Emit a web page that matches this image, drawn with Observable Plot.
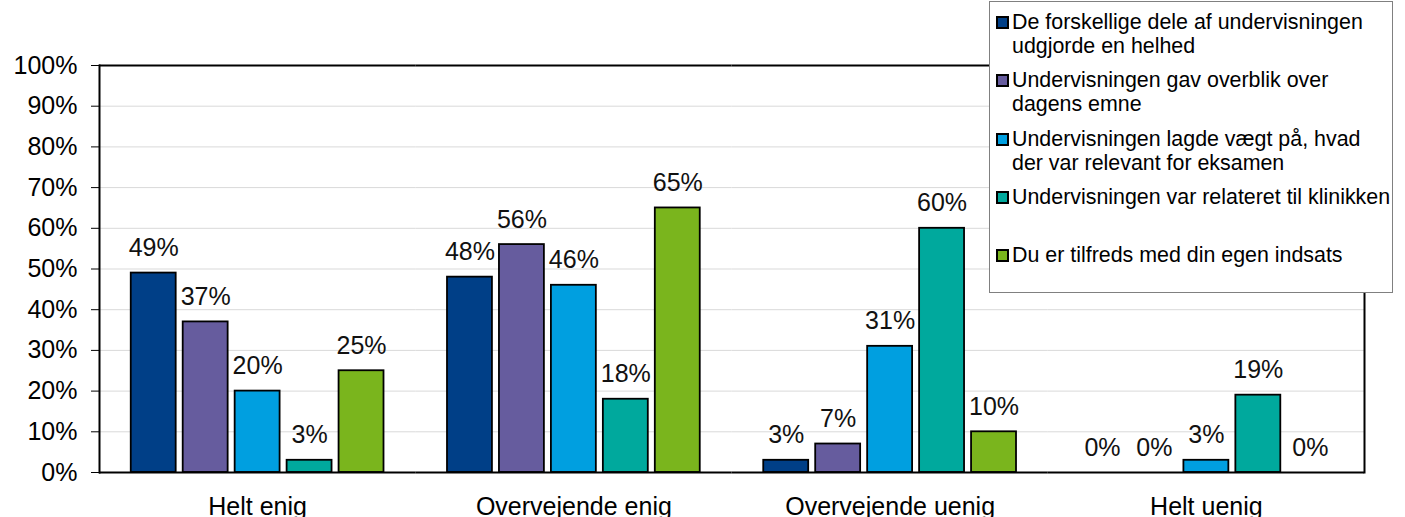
<!DOCTYPE html>
<html>
<head>
<meta charset="utf-8">
<script src="https://cdn.jsdelivr.net/npm/d3@7"></script>
<script src="https://cdn.jsdelivr.net/npm/@observablehq/plot@0.6"></script>
<style>
  html, body { margin: 0; padding: 0; background: #fff; }
  #wrap { position: relative; width: 1405px; height: 517px; overflow: hidden; font-family: "Liberation Sans", Arial, sans-serif; }
  #legend { position: absolute; left: 989px; top: 1px; width: 404px; height: 292px; background: #fff; border: 1px solid #808080; box-sizing: border-box; }
  .item { position: absolute; left: 6px; height: 58px; }
  .sw { position: absolute; left: 0; top: 6px; width: 13px; height: 13px; box-sizing: border-box; border: 2px solid #000; }
  .lt { position: absolute; left: 16px; top: 0; font-size: 21.4px; line-height: 24px; white-space: pre; color: #000; }
</style>
</head>
<body>
<div id="wrap"><div id="chart"></div><div id="legend"></div></div>
<script>
const categories = ["Helt enig", "Overvejende enig", "Overvejende uenig", "Helt uenig"];
const series = [
  "De forskellige dele af undervisningen udgjorde en helhed",
  "Undervisningen gav overblik over dagens emne",
  "Undervisningen lagde vægt på, hvad der var relevant for eksamen",
  "Undervisningen var relateret til klinikken",
  "Du er tilfreds med din egen indsats"
];
const legendLabels = [
  "De forskellige dele af undervisningen\nudgjorde en helhed",
  "Undervisningen gav overblik over\ndagens emne",
  "Undervisningen lagde vægt på, hvad\nder var relevant for eksamen",
  "Undervisningen var relateret til klinikken",
  "Du er tilfreds med din egen indsats"
];
const colors = ["#003f87", "#665c9e", "#009fe0", "#00a99d", "#7ab51d"];
const heltEnig = [49, 37, 20, 3, 25];
const overvejendeEnig = [48, 56, 46, 18, 65];
const overvejendeUenig = [3, 7, 31, 60, 10];
const heltUenig = [0, 0, 3, 19, 0];
const yTicks = [0, 10, 20, 30, 40, 50, 60, 70, 80, 90, 100];

const valueRows = [heltEnig, overvejendeEnig, overvejendeUenig, heltUenig];
const data = categories.flatMap((c, i) => series.map((s, j) => ({category: c, series: s, value: valueRows[i][j]})));

const chart = Plot.plot({
  width: 1405,
  height: 517,
  marginLeft: 99,
  marginRight: 41,
  marginTop: 65,
  marginBottom: 45,
  style: {fontFamily: "'Liberation Sans', Arial, sans-serif", fontSize: "25px", color: "#000", background: "#fff"},
  fx: {domain: categories, padding: 0, label: null, round: false},
  x: {domain: series, paddingInner: 0.135, paddingOuter: 0.611, round: false, axis: null},
  y: {domain: [0, 100], label: null},
  color: {domain: series, range: colors},
  marks: [
    Plot.ruleY(yTicks.filter(t => t > 0 && t < 100), {stroke: "#d9d9d9", strokeWidth: 1}),
    Plot.barY(data.filter(d => d.value > 0), {fx: "category", x: "series", y: "value", fill: "series", stroke: "#000", strokeWidth: 1.8}),
    Plot.text(data, {fx: "category", x: "series", y: "value", text: d => d.value + "%", dy: -25, fontSize: 25, fill: "#111"}),
    Plot.ruleY([0, 100], {stroke: "#000", strokeWidth: 2}),
    Plot.frame({anchor: "left", facetAnchor: "left", stroke: "#000", strokeWidth: 2}),
    Plot.frame({anchor: "right", facetAnchor: "right", stroke: "#000", strokeWidth: 2}),
    Plot.axisY({ticks: yTicks, tickFormat: d => d + "%", tickSize: 8, tickPadding: 14, label: null, facetAnchor: "left", fontSize: 25, stroke: "#000"}),
    Plot.axisFx({anchor: "bottom", tickSize: 0, tickPadding: 25, label: null, fontSize: 25})
  ]
});
document.getElementById("chart").appendChild(chart);

const legend = document.getElementById("legend");
legendLabels.forEach((lab, i) => {
  const it = document.createElement("div");
  it.className = "item";
  it.style.top = (8 + i * 58.3) + "px";
  const sw = document.createElement("div");
  sw.className = "sw";
  sw.style.background = colors[i];
  const t = document.createElement("div");
  t.className = "lt";
  t.textContent = lab;
  it.appendChild(sw);
  it.appendChild(t);
  legend.appendChild(it);
});
</script>
</body>
</html>
